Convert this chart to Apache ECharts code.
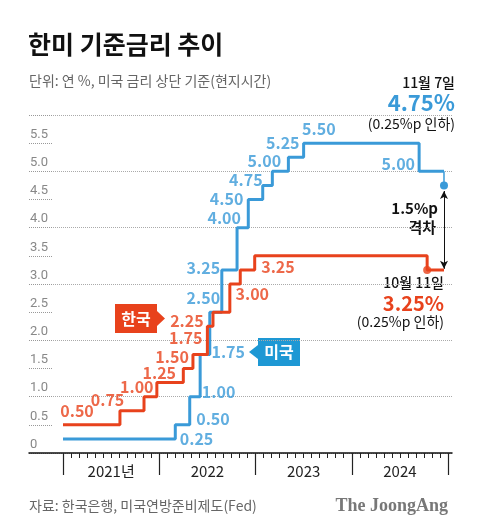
<!DOCTYPE html>
<html><head><meta charset="utf-8">
<script src="https://cdn.jsdelivr.net/npm/echarts@6/dist/echarts.min.js"></script>
<style>html,body{margin:0;padding:0;background:#fff}#c{width:480px;height:532px}</style>
</head><body><div id="c"></div>
<script>
// ---- data (months since Jan 2021, rate %) ----
const years = ['2021년', '2022', '2023', '2024'];
const usMonths = [0, 14.0, 15.8, 17.1, 18.3, 19.8, 21.7, 23.1, 24.9, 26.1, 28.1, 30.0, 44.4, 47.5];
const usRates  = [0.25, 0.50, 1.00, 1.75, 2.50, 3.25, 4.00, 4.50, 4.75, 5.00, 5.25, 5.50, 5.00, 4.75];
const krMonths = [0, 7.1, 10.1, 11.7, 15.0, 16.2, 18.0, 18.7, 20.8, 22.1, 23.9, 45.4];
const krRates  = [0.50, 0.75, 1.00, 1.25, 1.50, 1.75, 2.25, 2.50, 3.00, 3.25, 3.50, 3.25];
const krEndMonth = 47.5;
// which KR steps carry a value label
const krLabelIdx = [0, 1, 2, 3, 4, 5, 6, 8, 9];
// label layout (center month, pixel dy) -- style only
const usLabelLayout = [[16.65,0],[18.7,-6],[19.4,-5],[20.6,-2],[17.5,-14],[17.5,-2],[20.1,-10],[20.4,-1],[22.8,-5],[25.1,-10],[27.4,-14],[31.9,-14],[41.8,-7]];
const krLabelLayout = [[1.75,-14],[5.55,-11],[9.2,-10],[12.0,-10],[13.6,-12],[15.3,-16],[15.45,-5],[23.6,10],[26.8,-3]];

const BLUE = '#3a9ad8', RED = '#e8421c';
const KR = '"Noto Sans CJK KR", "Noto Sans", sans-serif';

// build series data
const nUs = usMonths.length;
const usThick = [];
for (let i = 0; i < nUs - 1; i++) usThick.push([usMonths[i], usRates[i]]);
usThick.push([usMonths[nUs-1], usRates[nUs-2]]);
const usDrop = [[usMonths[nUs-1], usRates[nUs-2]], {value:[usMonths[nUs-1], usRates[nUs-1]], symbolSize: 8}];
const krThick = krMonths.map((m, i) => [m, krRates[i]]);
krThick.push([krEndMonth, krRates[krRates.length-1]]);
const krDot = [[krMonths[krMonths.length-1], krRates[krRates.length-1]]];

const usLabels = usLabelLayout.map((p, i) => ({value:[p[0], usRates[i]], label:{offset:[0, p[1]]}, txt: usRates[i].toFixed(2)}));
const krLabels = krLabelIdx.map((idx, i) => ({value:[krLabelLayout[i][0], krRates[idx]], label:{offset:[0, krLabelLayout[i][1]]}, txt: krRates[idx].toFixed(2)}));

const chart = echarts.init(document.getElementById('c'), null, {renderer:'canvas'});
function txt(x, y, text, font, fill, align) {
  return {type:'text', x:x, y:y, silent:true,
    style:{text:text, font:font, fill:fill, align:align||'left', textAlign:align||'left', verticalAlign:'middle', textVerticalAlign:'middle'}};
}
const option = {
  animation:false,
  backgroundColor:'#fff',
  grid:[
    {left:29, right:28, top:115, bottom:79},
    {left:63, right:32, top:115, bottom:79},
    {left:29, width:23, top:115, bottom:79}
  ],
  xAxis:[
    {gridIndex:0, type:'value', position:'bottom', min:0, max:1, axisLine:{show:true, lineStyle:{color:'#111', width:1.5}}, axisTick:{show:false}, axisLabel:{show:false}, splitLine:{show:false}},
    {gridIndex:1, type:'value', position:'bottom', min:0, max:48, interval:1, axisLine:{show:false}, axisTick:{show:true, length:5, lineStyle:{color:'#222', width:1}}, axisLabel:{show:false}, splitLine:{show:false}},
    {gridIndex:1, type:'category', position:'bottom', data:years, boundaryGap:true, axisLine:{show:false}, axisTick:{show:true, length:22, lineStyle:{color:'#222', width:1.2}}, axisLabel:{show:true, margin:11, fontSize:15, color:'#222', fontFamily:KR}, splitLine:{show:false}},
    {gridIndex:2, type:'value', min:0, max:1, show:false}
  ],
  yAxis:[
    {gridIndex:0, type:'value', position:'left', min:0, max:6, interval:1, axisLine:{show:false}, axisTick:{show:false}, axisLabel:{show:false}, splitLine:{show:true, lineStyle:{type:'dotted', color:'#aaa', width:1}}},
    {gridIndex:0, type:'value', position:'left', min:0, max:6, interval:0.5, axisLine:{show:false}, axisTick:{show:false},
      axisLabel:{show:true, inside:true, margin:1, verticalAlign:'bottom', padding:[0,0,2,0], fontSize:13, color:'#888', fontFamily:'Roboto, sans-serif',
        formatter: v => v === 0 ? '0' : (v >= 6 ? '' : v.toFixed(1))}, splitLine:{show:false}},
    {gridIndex:1, type:'value', position:'left', min:0, max:6, show:false},
    {gridIndex:2, type:'value', position:'left', min:0, max:6, interval:0.5, axisLine:{show:false}, axisTick:{show:false}, axisLabel:{show:false},
      splitLine:{show:true, lineStyle:{type:'dotted', color:'#999', width:1}}}
  ],
  series:[
    {type:'line', name:'us', xAxisIndex:1, yAxisIndex:2, step:'end', data:usThick, showSymbol:false, symbol:'none', lineStyle:{color:BLUE, width:3}, z:3},
    {type:'line', name:'usDrop', xAxisIndex:1, yAxisIndex:2, data:usDrop, symbol:'circle', symbolSize:0, showSymbol:true, itemStyle:{color:BLUE}, lineStyle:{color:BLUE, width:1.5}, z:4},
    {type:'line', name:'kr', xAxisIndex:1, yAxisIndex:2, step:'end', data:krThick, showSymbol:false, symbol:'none', lineStyle:{color:RED, width:3}, z:3,
      markLine:{silent:true, symbol:['arrow','arrow'], symbolSize:[6,8], label:{show:false}, lineStyle:{color:'#111', width:1, type:'solid'},
        data:[[{coord:[usMonths[nUs-1], usRates[nUs-1] - 0.1]}, {coord:[krEndMonth, krRates[krRates.length-1] + 0.02]}]]}},
    {type:'scatter', name:'krDot', xAxisIndex:1, yAxisIndex:2, data:krDot, symbol:'circle', symbolSize:8, itemStyle:{color:RED}, z:5},
    {type:'scatter', name:'usLab', xAxisIndex:1, yAxisIndex:2, data:usLabels, symbolSize:0, z:6,
      label:{show:true, position:'inside', formatter: p => p.data.txt, color:BLUE, fontSize:16, fontWeight:'bold', fontFamily:KR}},
    {type:'scatter', name:'krLab', xAxisIndex:1, yAxisIndex:2, data:krLabels, symbolSize:0, z:6,
      label:{show:true, position:'inside', formatter: p => p.data.txt, color:RED, fontSize:16, fontWeight:'bold', fontFamily:KR}}
  ],
  graphic:[
    txt(28, 44, '한미 기준금리 추이', 'bold 25px ' + KR, '#111'),
    txt(29, 81, '단위: 연 %, 미국 금리 상단 기준(현지시간)', '14px ' + KR, '#666'),
    txt(455, 83, '11월 7일', '500 14px ' + KR, '#111', 'right'),
    txt(455, 103, '4.75%', 'bold 22px ' + KR, BLUE, 'right'),
    txt(455, 124, '(0.25%p 인하)', '14px ' + KR, '#111', 'right'),
    txt(444, 283, '10월 11일', '500 14px ' + KR, '#111', 'right'),
    txt(444, 303, '3.25%', 'bold 20px ' + KR, RED, 'right'),
    txt(444, 322, '(0.25%p 인하)', '14px ' + KR, '#111', 'right'),
    txt(438, 208, '1.5%p', 'bold 15px ' + KR, '#111', 'right'),
    txt(436, 227, '격차', 'bold 15px ' + KR, '#111', 'right'),
    // 한국 tag
    {type:'rect', shape:{x:115, y:304, width:42, height:29}, style:{fill:RED}, silent:true},
    {type:'polygon', shape:{points:[[157,311],[165,318.5],[157,326]]}, style:{fill:RED}, silent:true},
    txt(136, 318.5, '한국', 'bold 16px ' + KR, '#fff', 'center'),
    // 미국 tag
    {type:'rect', shape:{x:258, y:338, width:42, height:28}, style:{fill:'#1e98d4'}, silent:true},
    {type:'polygon', shape:{points:[[258,345],[249,352],[258,359]]}, style:{fill:'#1e98d4'}, silent:true},
    txt(279, 352, '미국', 'bold 16px ' + KR, '#fff', 'center'),
    txt(29, 506, '자료: 한국은행, 미국연방준비제도(Fed)', '14px ' + KR, '#666'),
    txt(448, 506, 'The JoongAng', 'bold 18px "Liberation Serif", "DejaVu Serif", serif', '#777', 'right')
  ]
};
chart.setOption(option);
</script>
</body></html>
